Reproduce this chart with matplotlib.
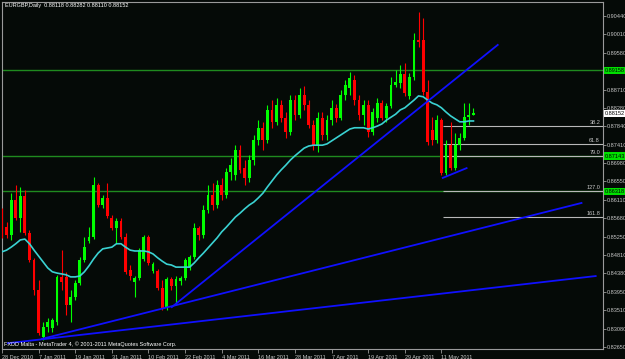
import matplotlib
matplotlib.use("Agg")
import matplotlib.pyplot as plt

plt.rcParams['font.family'] = ['Liberation Sans', 'DejaVu Sans']

# daily EURGBP bars, 28 Dec 2010 .. 20 May 2011 (one bar per weekday)
opens = [
    0.8583, 0.8547, 0.8529, 0.8611, 0.8569, 0.8620, 0.8533, 0.8470, 0.8399, 0.8289,
    0.8312, 0.8310, 0.8324, 0.8430, 0.8430, 0.8364, 0.8383, 0.8416, 0.8470, 0.8515,
    0.8524, 0.8646, 0.8599, 0.8616, 0.8569, 0.8545, 0.8562, 0.8524, 0.8446, 0.8418,
    0.8428, 0.8472, 0.8524, 0.8444, 0.8444, 0.8404, 0.8357, 0.8425, 0.8409, 0.8420,
    0.8428, 0.8453, 0.8477, 0.8545, 0.8529, 0.8588, 0.8623, 0.8599, 0.8646, 0.8623,
    0.8677, 0.8670, 0.8729, 0.8686, 0.8663, 0.8705, 0.8752, 0.8781, 0.8752, 0.8823,
    0.8795, 0.8835, 0.8804, 0.8771, 0.8846, 0.8811, 0.8858, 0.8835, 0.8788, 0.8740,
    0.8804, 0.8764, 0.8799, 0.8828, 0.8804, 0.8858, 0.8875, 0.8893, 0.8846, 0.8811,
    0.8835, 0.8771, 0.8804, 0.8839, 0.8804, 0.8832, 0.8882, 0.8886, 0.8908, 0.8856,
    0.8900, 0.8988, 0.8988, 0.8865, 0.8776, 0.8752, 0.8799, 0.8675, 0.8740, 0.8686,
    0.8740, 0.8757, 0.8806, 0.88118,
]
highs = [
    0.8592, 0.8559, 0.8627, 0.8646, 0.8642, 0.8634, 0.8540, 0.8475, 0.8423, 0.8324,
    0.8333, 0.8333, 0.8435, 0.8493, 0.8442, 0.8399, 0.8423, 0.8477, 0.8524, 0.8547,
    0.8665, 0.8651, 0.8623, 0.8651, 0.8576, 0.8569, 0.8569, 0.8533, 0.8458, 0.8432,
    0.8498, 0.8529, 0.8529, 0.8465, 0.8449, 0.8423, 0.8430, 0.8430, 0.8432, 0.8432,
    0.8475, 0.8482, 0.8557, 0.8550, 0.8599, 0.8646, 0.8651, 0.8658, 0.8663, 0.8686,
    0.8710, 0.8740, 0.8740, 0.8705, 0.8717, 0.8764, 0.8799, 0.8795, 0.8835, 0.8846,
    0.8851, 0.8846, 0.8818, 0.8858, 0.8858, 0.8875, 0.8879, 0.8846, 0.8799, 0.8818,
    0.8818, 0.8811, 0.8846, 0.8837, 0.8870, 0.8893, 0.8912, 0.8905, 0.8858, 0.8846,
    0.8846, 0.8828, 0.8851, 0.8846, 0.8839, 0.8900, 0.8917, 0.8929, 0.8933, 0.8910,
    0.9004, 0.9054, 0.9039, 0.8893, 0.8806, 0.8811, 0.8804, 0.8752, 0.8795, 0.8769,
    0.8769, 0.8839, 0.8839, 0.88282,
]
lows = [
    0.8522, 0.8522, 0.8517, 0.8564, 0.8536, 0.8529, 0.8465, 0.8387, 0.8293, 0.8282,
    0.8300, 0.8300, 0.8317, 0.8399, 0.8340, 0.8324, 0.8376, 0.8411, 0.8465, 0.8510,
    0.8519, 0.8595, 0.8592, 0.8569, 0.8540, 0.8510, 0.8519, 0.8437, 0.8423, 0.8383,
    0.8423, 0.8467, 0.8458, 0.8439, 0.8399, 0.8352, 0.8352, 0.8399, 0.8364, 0.8411,
    0.8423, 0.8446, 0.8472, 0.8517, 0.8522, 0.8580, 0.8588, 0.8592, 0.8611, 0.8616,
    0.8658, 0.8658, 0.8675, 0.8646, 0.8653, 0.8693, 0.8740, 0.8729, 0.8745, 0.8781,
    0.8788, 0.8795, 0.8757, 0.8764, 0.8799, 0.8804, 0.8823, 0.8781, 0.8729, 0.8724,
    0.8752, 0.8752, 0.8788, 0.8795, 0.8799, 0.8846, 0.8858, 0.8835, 0.8799, 0.8788,
    0.8759, 0.8764, 0.8795, 0.8799, 0.8795, 0.8828, 0.8877, 0.8875, 0.8856, 0.8849,
    0.8893, 0.8971, 0.8858, 0.8740, 0.8740, 0.8745, 0.8670, 0.8670, 0.8682, 0.8682,
    0.8729, 0.8752, 0.8788, 0.88110,
]
closes = [
    0.8540, 0.8529, 0.8611, 0.8569, 0.8620, 0.8533, 0.8470, 0.8399, 0.8298, 0.8312,
    0.8324, 0.8329, 0.8430, 0.8418, 0.8364, 0.8383, 0.8416, 0.8470, 0.8500, 0.8524,
    0.8646, 0.8599, 0.8616, 0.8573, 0.8545, 0.8562, 0.8524, 0.8442, 0.8432, 0.8428,
    0.8493, 0.8524, 0.8463, 0.8460, 0.8404, 0.8357, 0.8425, 0.8409, 0.8425, 0.8428,
    0.8470, 0.8477, 0.8545, 0.8529, 0.8588, 0.8623, 0.8599, 0.8646, 0.8623, 0.8677,
    0.8693, 0.8729, 0.8682, 0.8663, 0.8705, 0.8752, 0.8781, 0.8752, 0.8823, 0.8795,
    0.8835, 0.8804, 0.8771, 0.8846, 0.8811, 0.8858, 0.8835, 0.8788, 0.8740, 0.8804,
    0.8764, 0.8799, 0.8828, 0.8804, 0.8858, 0.8882, 0.8898, 0.8846, 0.8811, 0.8835,
    0.8771, 0.8818, 0.8839, 0.8804, 0.8832, 0.8882, 0.8889, 0.8908, 0.8863, 0.8900,
    0.8988, 0.8983, 0.8865, 0.8748, 0.8752, 0.8799, 0.8675, 0.8740, 0.8686, 0.8740,
    0.8757, 0.8806, 0.8811, 0.88152,
]
# moving average indicator (cyan), read per bar
ma_values = [
    0.8489, 0.8493, 0.8500, 0.8508, 0.8517, 0.8519, 0.8508, 0.8493, 0.8479, 0.8465,
    0.8451, 0.8442, 0.8439, 0.8437, 0.8435, 0.8430, 0.8430, 0.8432, 0.8442, 0.8456,
    0.8472, 0.8486, 0.8496, 0.8498, 0.8500, 0.8508, 0.8508, 0.8500, 0.8493, 0.8491,
    0.8491, 0.8491, 0.8489, 0.8484, 0.8475, 0.8467, 0.8460, 0.8458, 0.8453, 0.8453,
    0.8453, 0.8453, 0.8463, 0.8475, 0.8486, 0.8498, 0.8510, 0.8522, 0.8536, 0.8547,
    0.8559, 0.8571, 0.8580, 0.8590, 0.8599, 0.8606, 0.8616, 0.8627, 0.8642, 0.8656,
    0.8670, 0.8682, 0.8693, 0.8705, 0.8715, 0.8724, 0.8733, 0.8738, 0.8740, 0.8740,
    0.8740, 0.8743, 0.8750, 0.8757, 0.8764, 0.8771, 0.8778, 0.8781, 0.8781, 0.8781,
    0.8778, 0.8781, 0.8785, 0.8790, 0.8799, 0.8806, 0.8813, 0.8823, 0.8828, 0.8837,
    0.8846, 0.8856, 0.8854, 0.8846, 0.8839, 0.8835, 0.8828, 0.8818, 0.8809, 0.8802,
    0.8795, 0.8795, 0.8797, 0.8797,
]

date_ticks = [0, 8, 16, 24, 32, 40, 48, 56, 64, 72, 80, 88, 96]
date_labels = ["28 Dec 2010", "7 Jan 2011", "19 Jan 2011", "31 Jan 2011",
               "10 Feb 2011", "22 Feb 2011", "4 Mar 2011", "16 Mar 2011",
               "28 Mar 2011", "7 Apr 2011", "19 Apr 2011", "29 Apr 2011",
               "11 May 2011"]
price_ticks = [0.82650, 0.83080, 0.83510, 0.83950, 0.84380, 0.84810, 0.85250,
               0.85680, 0.86110, 0.86550, 0.86980, 0.87410, 0.87840, 0.88280,
               0.88710, 0.89150, 0.89580, 0.90010, 0.90440]

# horizontal levels (green) and trendlines as (bar, price) anchors
levels = [0.89158, 0.87143, 0.86318]
trend_lines = [
    ((37.1, 0.8359), (108.3, 0.8976)),
    ((8.7, 0.8284), (126.6, 0.8604)),
    ((1.3, 0.8274), (129.7, 0.8432)),
    ((96.3, 0.8663), (101.5, 0.8686)),
]
fib_high, fib_low = 0.88501, 0.86782
fib_levels = [38.2, 61.8, 79.0, 127.0, 161.8]
fib_start = 96.4
title_text = "EURGBP,Daily  0.88118 0.88282 0.88110 0.88152"
last_price = 0.88152

BG = '#050a07'
FG = '#c8c8c8'
FS = 4

fig = plt.figure(figsize=(6.25, 3.59), dpi=100)
fig.patch.set_facecolor(BG)
ax = fig.add_axes([2 / 625, 10 / 359, 601 / 625, 347 / 359])
ax.set_facecolor(BG)
ax.set_xlim(0.07, 131.3)
ax.set_ylim(0.82603, 0.90770)

for s in ax.spines.values():
    s.set_color('#9a9a9a')
    s.set_linewidth(0.8)

# green horizontal lines
for p in levels:
    ax.axhline(p, color='#1f8a1f', lw=1.0, zorder=1)

# fibonacci expansion levels
rng = fib_high - fib_low
for lv in fib_levels:
    p = fib_high - rng * lv / 100.0
    ax.hlines(p, fib_start, 131.3, color='#b8b8b8', lw=0.8, zorder=2)
    ax.text(0.995, p + 0.0002, f"{lv:.1f}", transform=ax.get_yaxis_transform(),
            ha='right', va='bottom', color=FG, fontsize=FS, zorder=6)

# candles
for i in range(len(opens)):
    o, h, l, c = opens[i], highs[i], lows[i], closes[i]
    col = '#00ff00' if c >= o else '#ff0000'
    ax.vlines(i, l, h, color=col, lw=0.8, zorder=3)
    body = max(abs(c - o), 0.00008)
    ax.bar(i, body, bottom=min(o, c), width=0.62, color=col, lw=0, zorder=4)

# moving average
ax.plot(range(len(ma_values)), ma_values, color='#3ad2d2', lw=1.2, zorder=5)

# trendlines
for (x1, y1), (x2, y2) in trend_lines:
    ax.plot([x1, x2], [y1, y2], color='#1010ff', lw=1.3, zorder=5)

# axes ticks; a tick label hidden under a price box is left blank
ax.yaxis.tick_right()
ax.set_yticks(price_ticks)
ylabels = []
for p in price_ticks:
    hidden = any(abs(p - q) < 0.0003 for q in levels)
    ylabels.append("" if hidden else f"{p:.5f}")
ax.set_yticklabels(ylabels)
ax.set_xticks(date_ticks)
ax.set_xticklabels(date_labels)
for lab in ax.get_xticklabels():
    lab.set_horizontalalignment('left')
ax.tick_params(axis='y', length=2, width=0.6, color='#9a9a9a', labelcolor=FG,
               labelsize=FS, pad=1)
ax.tick_params(axis='x', length=3, width=0.6, color='#9a9a9a', labelcolor=FG,
               labelsize=FS, pad=1.5)

# price boxes on the right scale
ytr = ax.get_yaxis_transform()
for p in levels:
    ax.text(1.003, p, f"{p:.5f}", transform=ytr, ha='left', va='center',
            fontsize=FS, color='#000000', clip_on=False, zorder=10,
            bbox=dict(facecolor='#00e000', edgecolor='none', pad=0.8))
ax.text(1.003, last_price, f"{last_price:.5f}", transform=ytr, ha='left',
        va='center', fontsize=FS, color='#000000', clip_on=False, zorder=10,
        bbox=dict(facecolor='#ffffff', edgecolor='none', pad=0.8))

fig.text(5 / 625, 1 - 6 / 359, title_text, color='#ffffff', fontsize=FS,
         va='center', ha='left')
fig.text(4 / 625, 1 - 344 / 359,
         "FXDD Malta - MetaTrader 4, \u00a9 2001-2011 MetaQuotes Software Corp.",
         color='#ffffff', fontsize=FS, va='center', ha='left')

fig.savefig('out.png', dpi=100, facecolor=BG)
